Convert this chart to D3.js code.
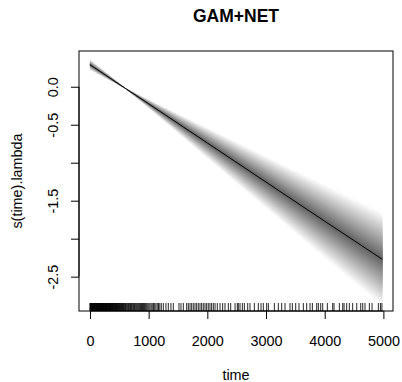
<!DOCTYPE html>
<html>
<head>
<meta charset="utf-8">
<script src="https://cdn.jsdelivr.net/npm/d3@7"></script>
<style>
  html, body { margin: 0; padding: 0; background: #fff; }
  svg { display: block; font-family: "Liberation Sans", Arial, Helvetica, sans-serif; }
</style>
</head>
<body>
<svg id="chart" width="402" height="382"></svg>
<script>
// ---- data ----
const title = "GAM+NET";
const xLabel = "time";
const yLabel = "s(time).lambda";

const fitTime = [0, 600, 1000, 2000, 3000, 4000, 4980];
const fitValue = [0.29, -0.02, -0.225, -0.74, -1.255, -1.77, -2.27];
// half-width of the outer shaded band
const bandHalf = [0.07, 0.004, 0.055, 0.2, 0.34, 0.48, 0.61];

const xTicks = [0, 1000, 2000, 3000, 4000, 5000];
const xTickLabels = ["0", "1000", "2000", "3000", "4000", "5000"];
const yTicks = [-2.5, -2.0, -1.5, -1.0, -0.5, 0.0];
const yTickLabels = ["-2.5", "", "-1.5", "", "-0.5", "0.0"];

const rugTimes = [
  0,4,9,15,20,26,31,37,42,48,53,59,65,70,76,81,87,93,98,104,110,115,121,127,132,138,144,150,155,161,
  167,173,179,185,190,196,202,208,214,220,226,232,238,244,250,256,262,268,275,281,287,293,300,306,312,
  319,325,332,338,345,351,358,365,372,378,385,392,399,406,414,421,428,436,443,451,459,467,475,483,491,
  500,508,517,526,535,544,554,563,573,583,593,
  605,618,630,644,655,668,681,692,706,719,733,745,760,772,788,801,815,830,846,862,878,895,912,930,948,
  966,985,1003,1022,1042,1061,1082,1103,1124,1146,1168,1190,1215,1250,1295,1335,1380,1420,1517,1551,1591,
  1648,1676,1705,1733,1761,1790,1818,1846,1875,1903,1931,1960,1988,2016,2045,2073,2102,
  2131,2170,2216,2261,2301,2358,2398,2472,2511,
  2528,2557,2597,2631,2688,2727,2801,2869,2915,2954,3011,3040,3142,3210,3267,3324,3409,3449,3506,3562,
  3636,3693,3750,3790,3864,3892,3932,3966,4045,4136,4159,4250,4307,4330,4375,4420,4477,4546,4614,4648,
  4687,4761,4807,4914,4950,4975
];

// ---- layout ----
const svg = d3.select("#chart");
const plot = { left: 79, top: 51, right: 393, bottom: 311 };

const x = d3.scaleLinear().domain([-187, 5164]).range([plot.left, plot.right]);
const y = d3.scaleLinear().domain([-2.952, 0.4705]).range([plot.bottom, plot.top]);

const fontSize = 14.4;

// ---- shaded gradient band ----
const pts = fitTime.map((t, i) => ({ t, f: fitValue[i], s: bandHalf[i] }));
const N = 40;
const grey = d3.interpolateRgb("#ffffff", "#666666");
const gBand = svg.append("g");
for (let j = 0; j < N; j++) {
  const frac = 1 - j / N;
  const area = d3.area()
    .x(d => x(d.t))
    .y0(d => y(d.f - d.s * frac))
    .y1(d => y(d.f + d.s * frac));
  gBand.append("path")
    .attr("d", area(pts))
    .attr("fill", grey((j + 1) / N))
    .attr("stroke", "none");
}

// ---- fitted line ----
const line = d3.line().x(d => x(d.t)).y(d => y(d.f));
svg.append("path")
  .attr("d", line(pts))
  .attr("fill", "none")
  .attr("stroke", "#000")
  .attr("stroke-width", 1);

// ---- rug ----
svg.append("g").selectAll("line").data(rugTimes).join("line")
  .attr("x1", d => x(d)).attr("x2", d => x(d))
  .attr("y1", plot.bottom).attr("y2", plot.bottom - 8)
  .attr("stroke", "#000")
  .attr("stroke-width", 0.85);

// ---- box ----
svg.append("rect")
  .attr("x", plot.left).attr("y", plot.top)
  .attr("width", plot.right - plot.left).attr("height", plot.bottom - plot.top)
  .attr("fill", "none").attr("stroke", "#000").attr("stroke-width", 1);

// ---- axes ----
const xAxis = d3.axisBottom(x).tickValues(xTicks)
  .tickFormat((d, i) => xTickLabels[i]).tickSizeOuter(0).tickSizeInner(8).tickPadding(0);
const gx = svg.append("g").attr("transform", `translate(0,${plot.bottom})`).call(xAxis);
gx.select(".domain").attr("d", `M${x(xTicks[0])},0H${x(xTicks[xTicks.length-1])}`);
gx.selectAll("text").attr("y", 34.5).attr("dy", null)
  .attr("font-size", fontSize).attr("font-family", null).attr("fill", "#000");
gx.selectAll("line").attr("stroke", "#000");

const yAxis = d3.axisLeft(y).tickValues(yTicks)
  .tickFormat((d, i) => yTickLabels[i]).tickSizeOuter(0).tickSizeInner(8);
const gy = svg.append("g").attr("transform", `translate(${plot.left},0)`).call(yAxis);
gy.select(".domain").attr("d", `M0,${y(yTicks[0])}V${y(yTicks[yTicks.length-1])}`);
gy.selectAll(".tick text")
  .attr("x", null).attr("dy", null)
  .attr("transform", "translate(-21,0) rotate(-90)")
  .attr("text-anchor", "middle")
  .attr("font-size", fontSize).attr("font-family", null).attr("fill", "#000");
gy.selectAll("line").attr("stroke", "#000");
svg.selectAll(".domain").attr("stroke", "#000");

// ---- titles ----
svg.append("text")
  .attr("x", (plot.left + plot.right) / 2).attr("y", 22)
  .attr("text-anchor", "middle")
  .attr("font-size", 17.5).attr("font-weight", "bold")
  .text(title);

svg.append("text")
  .attr("x", (plot.left + plot.right) / 2).attr("y", 380)
  .attr("text-anchor", "middle")
  .attr("font-size", fontSize)
  .text(xLabel);

svg.append("text")
  .attr("transform", `translate(22,${(plot.top + plot.bottom) / 2}) rotate(-90)`)
  .attr("text-anchor", "middle")
  .attr("font-size", fontSize)
  .text(yLabel);
</script>
</body>
</html>
